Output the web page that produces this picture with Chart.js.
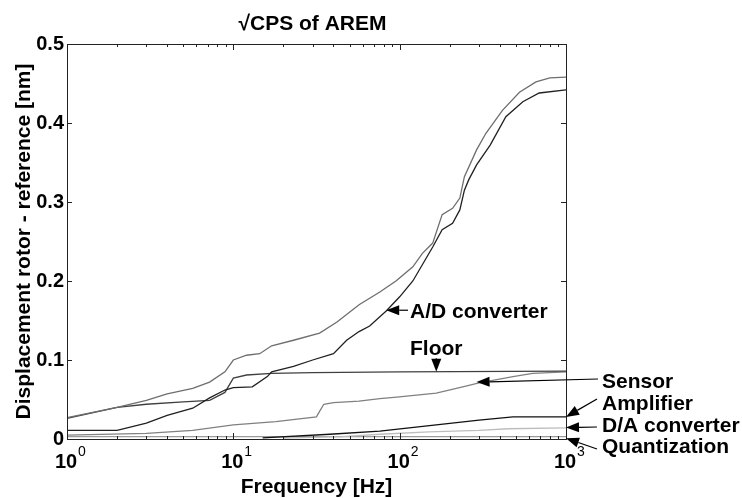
<!DOCTYPE html>
<html>
<head>
<meta charset="utf-8">
<script src="https://cdn.jsdelivr.net/npm/chart.js@4.4.0/dist/chart.umd.min.js"></script>
<style>
  body { margin: 0; background: #fff; }
</style>
</head>
<body>
<canvas id="myChart" width="742" height="498"></canvas>
<script>
// datos (frecuencia en Hz, desplazamiento en nm)
const totalHz = [1, 2, 3, 4, 5.7, 7.2, 8.9, 10, 12, 14.4, 17, 23, 33, 42, 57, 76, 95, 120, 137, 158, 180, 208, 230, 245, 290, 330, 415, 525, 660, 800, 1000];
const totalNm = [0.027, 0.04, 0.049, 0.057, 0.064, 0.072, 0.085, 0.1, 0.106, 0.108, 0.118, 0.125, 0.134, 0.148, 0.17, 0.186, 0.2, 0.218, 0.235, 0.248, 0.284, 0.292, 0.305, 0.332, 0.366, 0.387, 0.416, 0.439, 0.452, 0.457, 0.458];

const adHz = [1, 2, 3, 4, 5.7, 7.2, 8.9, 10, 13, 16, 17, 23, 30, 40, 48, 57, 66, 83, 100, 120, 158, 180, 208, 230, 245, 260, 290, 350, 435, 550, 690, 1000];
const adNm = [0.011, 0.011, 0.02, 0.03, 0.039, 0.052, 0.062, 0.065, 0.066, 0.079, 0.085, 0.092, 0.1, 0.108, 0.125, 0.136, 0.143, 0.162, 0.18, 0.2, 0.243, 0.265, 0.273, 0.29, 0.315, 0.328, 0.347, 0.372, 0.408, 0.427, 0.438, 0.442];

const floorHz = [1, 2, 3, 5, 7.2, 8.9, 10, 12, 17, 30, 100, 1000];
const floorNm = [0.026, 0.04, 0.044, 0.047, 0.049, 0.059, 0.077, 0.081, 0.083, 0.084, 0.085, 0.086];

const sensorHz = [1, 3, 5.7, 10, 18, 31.6, 33, 35, 40, 57, 76, 96, 150, 166, 250, 300, 480, 630, 1000];
const sensorNm = [0.005, 0.007, 0.011, 0.018, 0.022, 0.028, 0.035, 0.044, 0.046, 0.048, 0.051, 0.053, 0.057, 0.058, 0.067, 0.071, 0.079, 0.083, 0.085];

const ampHz = [15, 38, 76, 166, 300, 480, 1000];
const ampNm = [0.0015, 0.006, 0.01, 0.018, 0.024, 0.028, 0.028];

const daHz = [20, 45, 76, 150, 300, 450, 1000];
const daNm = [0.001, 0.003, 0.006, 0.009, 0.011, 0.013, 0.014];

const quantHz = [1, 1000];
const quantNm = [0.003, 0.003];

const yTicks = [0, 0.1, 0.2, 0.3, 0.4, 0.5];
const yTickLabels = ['0', '0.1', '0.2', '0.3', '0.4', '0.5'];
const xTicks = [1, 10, 100, 1000];
const xTickExp = ['0', '1', '2', '3'];

// etiquetas con flecha: texto y punta de la flecha en coordenadas de datos
const annoLabels = ['A/D converter', 'Floor', 'Sensor', 'Amplifier', 'D/A converter', 'Quantization'];
const annoTipHz = [83, 166, 290, 1000, 1000, 1000];
const annoTipNm = [0.163, 0.085, 0.072, 0.028, 0.0145, 0.001];

function serie(hz, nm) {
  return hz.map((f, i) => ({ x: f, y: nm[i] }));
}

const FONT = '"Liberation Sans", Arial, sans-serif';

function drawArrow(ctx, x0, y0, x1, y1) {
  const ang = Math.atan2(y1 - y0, x1 - x0);
  const len = 13, half = 5;
  ctx.beginPath();
  ctx.moveTo(x0, y0);
  ctx.lineTo(x1 - Math.cos(ang) * len, y1 - Math.sin(ang) * len);
  ctx.stroke();
  ctx.beginPath();
  ctx.moveTo(x1, y1);
  ctx.lineTo(x1 - Math.cos(ang) * len - Math.sin(ang) * half, y1 - Math.sin(ang) * len + Math.cos(ang) * half);
  ctx.lineTo(x1 - Math.cos(ang) * len + Math.sin(ang) * half, y1 - Math.sin(ang) * len - Math.cos(ang) * half);
  ctx.closePath();
  ctx.fill();
}

const framePlugin = {
  id: 'frame',
  afterDatasetsDraw(chart) {
    const ctx = chart.ctx;
    const a = chart.chartArea;
    const xs = chart.scales.x, ys = chart.scales.y;
    ctx.save();
    ctx.strokeStyle = '#222';
    ctx.fillStyle = '#000';
    ctx.lineWidth = 1;
    ctx.strokeRect(Math.round(a.left) + 0.5, Math.round(a.top) + 0.5, Math.round(a.right - a.left), Math.round(a.bottom - a.top));

    // marcas del eje y (hacia dentro)
    ctx.beginPath();
    yTicks.forEach((v) => {
      const y = Math.round(ys.getPixelForValue(v)) + 0.5;
      ctx.moveTo(a.left, y); ctx.lineTo(a.left + 5, y);
      ctx.moveTo(a.right, y); ctx.lineTo(a.right - 5, y);
    });
    // marcas del eje x logaritmico
    for (let d = 1; d <= 1000; d *= 10) {
      for (let k = 1; k <= 9; k++) {
        const f = d * k;
        if (f > 1000) break;
        const x = Math.round(xs.getPixelForValue(f)) + 0.5;
        const l = k === 1 ? 6 : 3;
        ctx.moveTo(x, a.bottom); ctx.lineTo(x, a.bottom - l);
        ctx.moveTo(x, a.top); ctx.lineTo(x, a.top + l);
      }
    }
    ctx.stroke();

    // etiquetas eje y
    ctx.font = 'bold 20px ' + FONT;
    ctx.textAlign = 'right';
    ctx.textBaseline = 'middle';
    yTicks.forEach((v, i) => {
      ctx.fillText(yTickLabels[i], a.left - 3, ys.getPixelForValue(v));
    });

    // etiquetas eje x: 10^n
    ctx.textBaseline = 'alphabetic';
    xTicks.forEach((v, i) => {
      const x = xs.getPixelForValue(v);
      ctx.font = 'bold 20px ' + FONT;
      ctx.textAlign = 'center';
      ctx.fillText('10', x - 1, 468);
      ctx.font = '14px ' + FONT;
      ctx.textAlign = 'left';
      ctx.fillText(xTickExp[i], x + 11, 456);
    });

    // titulos
    ctx.font = 'bold 21px ' + FONT;
    ctx.textAlign = 'center';
    ctx.fillText('Frequency [Hz]', (a.left + a.right) / 2, 493);
    ctx.fillText('\u221ACPS of AREM', (a.left + a.right) / 2 - 4, 30);
    ctx.save();
    ctx.translate(24, (a.top + a.bottom) / 2);
    ctx.rotate(-Math.PI / 2);
    ctx.textBaseline = 'middle';
    ctx.fillText('Displacement rotor - reference [nm]', 0, 0);
    ctx.restore();

    // anotaciones con flechas
    const textPos = [[410, 318], [410, 355], [602, 388], [602, 410], [602, 432], [602, 453]];
    const tails = [[408, 0], [0, 358], [598, 379], [597, 399], [597, 427], [597, 449]];
    ctx.textAlign = 'left';
    ctx.lineWidth = 1.2;
    ctx.strokeStyle = '#000';
    annoLabels.forEach((txt, i) => {
      ctx.fillText(txt, textPos[i][0], textPos[i][1]);
      const tx = xs.getPixelForValue(annoTipHz[i]);
      const ty = ys.getPixelForValue(annoTipNm[i]);
      let x0 = tails[i][0], y0 = tails[i][1];
      if (i === 0) y0 = ty;
      if (i === 1) x0 = tx;
      drawArrow(ctx, x0, y0, tx, ty);
    });
    ctx.restore();
  }
};

const ctx = document.getElementById('myChart').getContext('2d');

const lineStyle = { borderWidth: 1.3, pointRadius: 0, tension: 0, fill: false };

const myChart = new Chart(ctx, {
  type: 'line',
  data: {
    datasets: [
      { label: 'Total', data: serie(totalHz, totalNm), borderColor: '#6e6e6e', ...lineStyle },
      { label: 'A/D converter', data: serie(adHz, adNm), borderColor: '#202020', ...lineStyle },
      { label: 'Floor', data: serie(floorHz, floorNm), borderColor: '#404040', ...lineStyle },
      { label: 'Sensor', data: serie(sensorHz, sensorNm), borderColor: '#808080', ...lineStyle },
      { label: 'Amplifier', data: serie(ampHz, ampNm), borderColor: '#111111', ...lineStyle },
      { label: 'D/A converter', data: serie(daHz, daNm), borderColor: '#bdbdbd', ...lineStyle },
      { label: 'Quantization', data: serie(quantHz, quantNm), borderColor: '#9a9a9a', ...lineStyle },
    ],
  },
  options: {
    responsive: false,
    animation: false,
    layout: { padding: { left: 67, right: 176, top: 44, bottom: 59 } },
    scales: {
      x: { type: 'logarithmic', min: 1, max: 1000, display: false },
      y: { type: 'linear', min: 0, max: 0.5, display: false },
    },
    plugins: {
      legend: { display: false },
      tooltip: { enabled: false },
    },
  },
  plugins: [framePlugin],
});
</script>
</body>
</html>
